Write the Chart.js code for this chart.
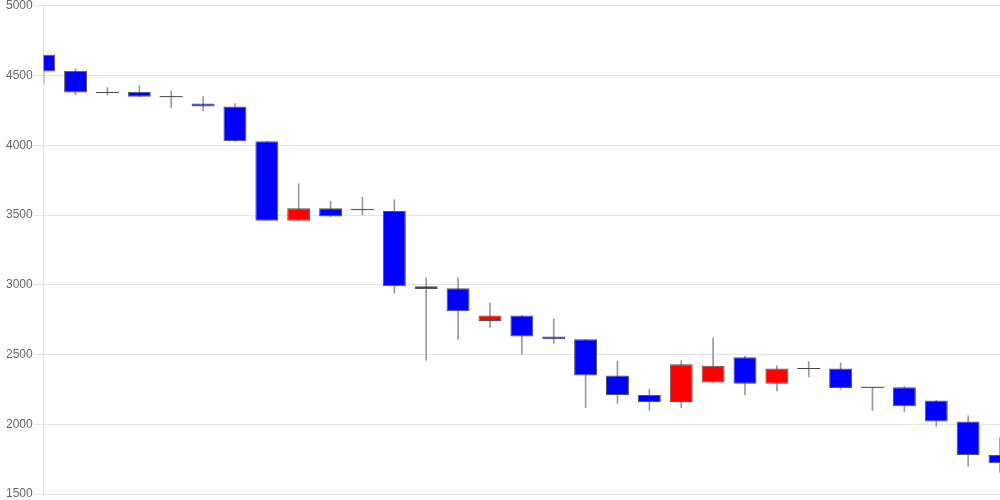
<!DOCTYPE html>
<html>
<head>
<meta charset="utf-8">
<script src="https://cdn.jsdelivr.net/npm/chart.js@4/dist/chart.umd.min.js"></script>
<style>
  html, body { margin: 0; padding: 0; background: #fff; }
  #wrap { width: 1000px; height: 500px; position: relative; }
</style>
</head>
<body>
<div id="wrap"><canvas id="c"></canvas></div>
<script>
const labels = Array.from({length: 31}, (_, i) => String(i + 1));
const opens  = [4650, 4535, 4380, 4385, 4350, 4300, 4280, 4030, 3460, 3550, 3545, 3530, 2990, 2975, 2740, 2780, 2630, 2610, 2350, 2210, 2160, 2300, 2480, 2290, 2400, 2400, 2265, 2265, 2170, 2020, 1780];
const highs  = [4650, 4550, 4415, 4430, 4390, 4350, 4300, 4030, 3725, 3600, 3630, 3610, 3050, 3050, 2870, 2780, 2755, 2610, 2455, 2250, 2455, 2620, 2490, 2420, 2450, 2440, 2265, 2270, 2170, 2060, 1905];
const lows   = [4445, 4362, 4360, 4350, 4270, 4250, 4030, 3460, 3460, 3490, 3500, 2940, 2460, 2610, 2695, 2500, 2580, 2120, 2150, 2100, 2120, 2300, 2210, 2240, 2340, 2250, 2100, 2090, 1985, 1700, 1655];
const closes = [4530, 4380, 4380, 4350, 4350, 4280, 4030, 3460, 3550, 3490, 3535, 2990, 2970, 2810, 2780, 2630, 2610, 2350, 2210, 2160, 2430, 2420, 2290, 2400, 2400, 2260, 2265, 2130, 2020, 1780, 1720];
const yTicks = [1500, 2000, 2500, 3000, 3500, 4000, 4500, 5000];

const UP = '#ff0000', DOWN = '#0000ff';
const wickData = lows.map((l, i) => [l, highs[i]]);
const bodyData = opens.map((o, i) => [Math.min(o, closes[i]), Math.max(o, closes[i])]);
const bodyColors = opens.map((o, i) => closes[i] > o ? UP : DOWN);
const dojiData = opens.map((o, i) => o === closes[i] ? o : null);

new Chart(document.getElementById('c'), {
  type: 'bar',
  data: {
    labels: labels,
    datasets: [
      {
        label: 'wick',
        data: wickData,
        backgroundColor: '#9a9a9a',
        barThickness: 1,
        grouped: false,
        clip: 0,
        order: 3
      },
      {
        label: 'body',
        data: bodyData,
        backgroundColor: bodyColors,
        borderColor: '#555555',
        borderWidth: 1,
        borderSkipped: false,
        grouped: false,
        clip: 0,
        order: 2
      },
      {
        type: 'line',
        label: 'doji',
        data: dojiData,
        showLine: false,
        pointStyle: 'line',
        pointRadius: 11.5,
        pointHoverRadius: 11.5,
        borderColor: '#444444',
        borderWidth: 1,
        clip: 0,
        order: 1
      }
    ]
  },
  options: {
    responsive: true,
    maintainAspectRatio: false,
    animation: false,
    layout: { autoPadding: false, padding: { left: 5, right: 0, top: 0, bottom: 0 } },
    plugins: {
      legend: { display: false },
      tooltip: { enabled: false },
      title: { display: false }
    },
    scales: {
      x: {
        display: false,
        offset: false,
        grid: { display: false }
      },
      y: {
        min: 1500,
        max: 5000,
        afterBuildTicks: (axis) => { axis.ticks = yTicks.map(v => ({ value: v })); },
        ticks: {
          color: '#666',
          padding: 1,
          font: { family: '"Liberation Sans", Arial, sans-serif', size: 12, lineHeight: 0.833 },
          callback: (v) => String(v)
        },
        grid: { color: 'rgba(0,0,0,0.1)', tickLength: 10 },
        border: { color: 'rgba(0,0,0,0.1)' }
      }
    }
  }
});
</script>
</body>
</html>
